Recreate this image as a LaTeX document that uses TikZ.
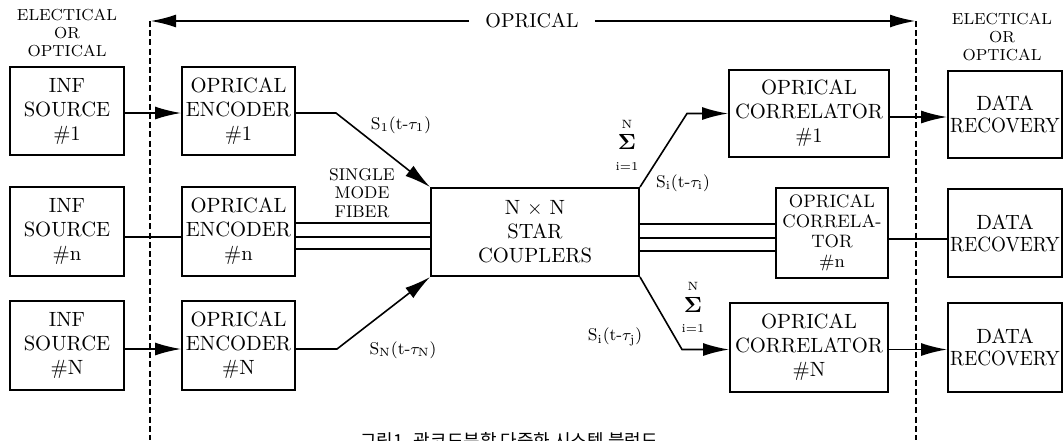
\documentclass[tikz,border=0pt]{standalone}
\usepackage[no-math]{fontspec}
\newfontfamily\kr{Noto Sans CJK KR}
\usetikzlibrary{arrows.meta}
\begin{document}
\begin{tikzpicture}[x=0.5pt,y=-0.5pt,
  box/.style={draw,line width=1pt,inner sep=0pt,align=center,font=\fontsize{10.3}{12}\selectfont},
  conn/.style={line width=0.8pt},
  arr/.style={conn,-{Latex[length=13pt,width=6.5pt]}},
  bigarr/.style={line width=1.3pt,-{Latex[length=13pt,width=6.5pt]}},
  dashline/.style={line width=1.4pt,dash pattern=on 3pt off 1.6pt},
  small/.style={font=\fontsize{8}{9}\selectfont,align=center,inner sep=0pt},
  sl/.style={font=\fontsize{8.5}{10}\selectfont,inner sep=0pt},
  tiny/.style={font=\fontsize{6}{6.5}\selectfont,inner sep=0pt},
  sigma/.style={font=\fontsize{11}{12}\selectfont,inner sep=0pt}
]
\useasboundingbox (0,0) rectangle (1063,440);

% labels
\node[small] (lab1) at (67,33) {ELECTICAL\\OR\\OPTICAL};
\node[small] (lab2) at (1002,37) {ELECTICAL\\OR\\OPTICAL};
\node[font=\fontsize{10}{12}\selectfont,fill=white,inner xsep=8pt,inner ysep=1pt] (opt) at (532,21) {OPRICAL};

% dashed boundaries
\coordinate (dlt) at (150,21);
\coordinate (dlb) at (150,440);
\coordinate (drt) at (916,21);
\coordinate (drb) at (916,440);
\draw[dashline] (dlt) -- (dlb);
\draw[dashline] (drt) -- (drb);
\draw[bigarr] (opt.west) -- (dlt);
\draw[bigarr] (opt.east) -- (drt);

% sources
\node[box,minimum width=57pt,minimum height=44pt] (src1) at (67,111) {INF\\SOURCE\\\#1};
\node[box,minimum width=57pt,minimum height=44.5pt] (srcn) at (67,231.5) {INF\\SOURCE\\\#n};
\node[box,minimum width=57pt,minimum height=44.5pt] (srcN) at (67,345) {INF\\SOURCE\\\#N};

% encoders
\node[box,minimum width=56.5pt,minimum height=44pt] (enc1) at (238.5,111) {OPRICAL\\ENCODER\\\#1};
\node[box,minimum width=56.5pt,minimum height=44.5pt] (encn) at (238.5,231.5) {OPRICAL\\ENCODER\\\#n};
\node[box,minimum width=56.5pt,minimum height=44.5pt] (encN) at (238.5,345) {OPRICAL\\ENCODER\\\#N};

% coupler
\node[box,minimum width=104pt,minimum height=44pt] (coup) at (535,232) {N~$\times$~N\\STAR\\COUPLERS};

% correlators
\node[box,minimum width=80pt,minimum height=43.5pt] (corr1) at (809,113.5) {OPRICAL\\CORRELATOR\\\#1};
\node[box,minimum width=56pt,minimum height=45pt,font=\fontsize{9}{10}\selectfont] (corrn) at (832,233) {OPRICAL\\CORRELA-\\TOR\\\#n};
\node[box,minimum width=79pt,minimum height=44.5pt] (corrN) at (809,347.5) {OPRICAL\\CORRELATOR\\\#N};

% data recovery
\node[box,minimum width=57pt,minimum height=43.5pt,font=\fontsize{10.3}{11}\selectfont] (dr1) at (1005,114.5) {DATA\\\scalebox{0.93}[1]{RECOVERY}};
\node[box,minimum width=57pt,minimum height=44pt,font=\fontsize{10.3}{11}\selectfont] (drn) at (1005,233) {DATA\\\scalebox{0.93}[1]{RECOVERY}};
\node[box,minimum width=57pt,minimum height=44.5pt,font=\fontsize{10.3}{11}\selectfont] (drN) at (1005,347.5) {DATA\\\scalebox{0.93}[1]{RECOVERY}};

% source -> encoder
\draw[arr] ([yshift=-1pt]src1.east) -- ([yshift=-1pt]src1.east -| enc1.west);
\draw[conn] ([yshift=-2.75pt]srcn.east) -- ([yshift=-2.75pt]srcn.east -| encn.west);
\draw[arr] ([yshift=-2pt]srcN.east) -- ([yshift=-2pt]srcN.east -| encN.west);

% encoder -> coupler
\draw[arr] ([yshift=-1pt]enc1.east) -- ++(40,0) -- (coup.north west);
\draw[arr] ([yshift=-2pt]encN.east) -- ++(41,0) -- (coup.south west);
\draw[conn] ([yshift=4.25pt]encn.east) -- ([yshift=4.25pt]encn.east -| coup.west);
\draw[conn] ([yshift=-2.75pt]encn.east) -- ([yshift=-2.75pt]encn.east -| coup.west);
\draw[conn] ([yshift=-8.75pt]encn.east) -- ([yshift=-8.75pt]encn.east -| coup.west);

% coupler -> correlators
\draw[arr] (coup.north east) -- ([xshift=-20.5pt]corr1.west) -- (corr1.west);
\draw[arr] (coup.south east) -- ([xshift=-23.5pt,yshift=-1pt]corrN.west) -- ([yshift=-1pt]corrN.west);
\draw[conn] ([yshift=4pt]coup.east) -- ([yshift=4pt]coup.east -| corrn.west);
\draw[conn] ([yshift=-3pt]coup.east) -- ([yshift=-3pt]coup.east -| corrn.west);
\draw[conn] ([yshift=-9.5pt]coup.east) -- ([yshift=-9.5pt]coup.east -| corrn.west);

% correlator -> data recovery
\draw[arr] ([yshift=-1.75pt]corr1.east) -- ([yshift=-1.75pt]corr1.east -| dr1.west);
\draw[conn] ([yshift=-3pt]corrn.east) -- ([yshift=-3pt]corrn.east -| drn.west);
\draw[arr] ([yshift=-1pt]corrN.east) -- ([yshift=-1pt]corrN.east -| drN.west);

% fiber label
\node[small,font=\fontsize{8.5}{9.3}\selectfont] (smf) at (362,193) {SINGLE\\MODE\\FIBER};

% signal labels
\node[sl] (s1) at (401,125) {S$_1$(t-$\tau_1$)};
\node[sl] (sN) at (403,350) {S$_\mathrm{N}$(t-$\tau_\mathrm{N}$)};
\node[sl] (si) at (683,183) {S$_\mathrm{i}$(t-$\tau_\mathrm{i}$)};
\node[sl] (sj) at (615,337) {S$_\mathrm{i}$(t-$\tau_\mathrm{j}$)};

% sums
\node[tiny] (sgN1) at (627,124) {N};
\node[sigma] (sg1) at (627,142) {$\mathbf{\Sigma}$};
\node[tiny] (sgi1) at (627,167) {i=1};
\node[tiny] (sgN2) at (693,286) {N};
\node[sigma] (sg2) at (693,305) {$\mathbf{\Sigma}$};
\node[tiny] (sgi2) at (693,328) {i=1};

% caption (cut off at the bottom)
\node[anchor=base west,font=\kr\fontsize{9}{10}\selectfont,inner sep=0pt] (cap) at (360,447) {그림1. 광코드분할 다중화 시스템 블럭도};
\end{tikzpicture}
\end{document}
